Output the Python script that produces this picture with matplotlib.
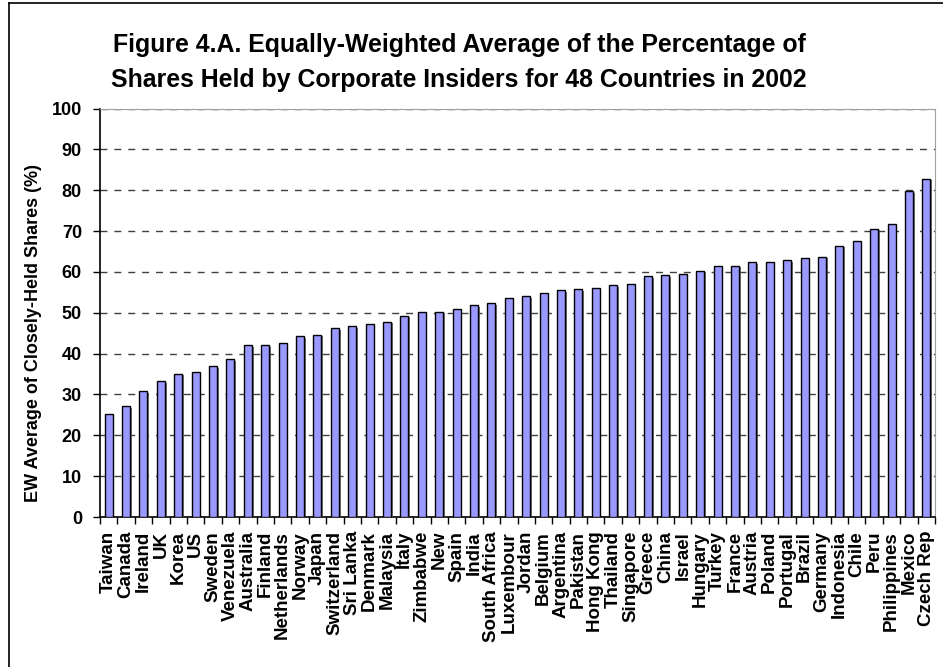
import numpy as np
import matplotlib
matplotlib.use("Agg")
import matplotlib.pyplot as plt
import matplotlib.patheffects as pe
from matplotlib.lines import Line2D

plt.rcParams['font.family'] = ['Liberation Sans', 'DejaVu Sans']
plt.rcParams['font.weight'] = 'bold'

countries = ['Taiwan', 'Canada', 'Ireland', 'UK', 'Korea', 'US', 'Sweden', 'Venezuela',
             'Australia', 'Finland', 'Netherlands', 'Norway', 'Japan', 'Switzerland',
             'Sri Lanka', 'Denmark', 'Malaysia', 'Italy', 'Zimbabwe', 'New', 'Spain',
             'India', 'South Africa', 'Luxembour', 'Jordan', 'Belgium', 'Argentina',
             'Pakistan', 'Hong Kong', 'Thailand', 'Singapore', 'Greece', 'China', 'Israel',
             'Hungary', 'Turkey', 'France', 'Austria', 'Poland', 'Portugal', 'Brazil',
             'Germany', 'Indonesia', 'Chile', 'Peru', 'Philippines', 'Mexico', 'Czech Rep']
ew_avg = [25.3, 27.2, 30.8, 33.3, 35.1, 35.4, 36.9, 38.7,
          42.0, 42.0, 42.6, 44.2, 44.6, 46.3,
          46.7, 47.2, 47.8, 49.3, 50.3, 50.3, 50.9,
          51.9, 52.4, 53.6, 54.0, 54.9, 55.5,
          55.8, 56.1, 56.7, 57.0, 58.9, 59.2, 59.4,
          60.3, 61.5, 61.5, 62.4, 62.4, 62.8, 63.4,
          63.7, 66.4, 67.6, 70.6, 71.8, 79.8, 82.8]
yticks = list(range(0, 101, 10))

fig = plt.figure(figsize=(9.43, 6.67), dpi=100)
ax = fig.add_axes([100/943, 1-517/667, 835/943, (517-108.5)/667])

x = np.arange(len(countries))
bars = ax.bar(x, ew_avg, width=0.46, color='#9999FF', edgecolor='black', linewidth=1, zorder=3)
for b in bars:
    b.set_path_effects([pe.SimplePatchShadow(offset=(1.2, -1.2), shadow_rgbFace='#555555', alpha=0.8), pe.Normal()])

ax.set_xlim(-0.5, len(countries) - 0.5)
ax.set_ylim(0, 100)
ax.set_yticks(yticks)
ax.yaxis.grid(True, color='#404040', linestyle=(0, (5, 5)), linewidth=1, zorder=0)
ax.set_axisbelow(True)

ax.set_xticks(x)
ax.set_xticklabels(countries, rotation=90, fontsize=13.5, fontweight='bold', va='top', ha='center')
ax.set_xticks(np.arange(len(countries) + 1) - 0.5, minor=True)
ax.tick_params(axis='x', which='major', length=0, pad=10)
ax.tick_params(axis='x', which='minor', length=5, direction='out', width=1)
ax.tick_params(axis='y', length=5, direction='out', width=1, labelsize=13, pad=8)
for lab in ax.get_yticklabels():
    lab.set_fontweight('bold')

ax.spines['top'].set_color('#a0a0a0')
ax.spines['right'].set_color('#a0a0a0')
ax.spines['left'].set_linewidth(1.2)
ax.spines['bottom'].set_linewidth(1.2)

ax.set_ylabel('EW Average of Closely-Held Shares (%)', fontsize=13, fontweight='bold')
ax.yaxis.set_label_coords(34/943, 0.5, transform=fig.transFigure)
ax.yaxis.label.set_va('center')

fig.text(459/943, 1-45/667, 'Figure 4.A. Equally-Weighted Average of the Percentage of',
         ha='center', va='center', fontsize=17.9, fontweight='bold')
fig.text(459/943, 1-80/667, 'Shares Held by Corporate Insiders for 48 Countries in 2002',
         ha='center', va='center', fontsize=17.9, fontweight='bold')

# outer chart frame
fig.add_artist(Line2D([9/943, 9/943], [0, 1-3/667], color='black', linewidth=1.2, transform=fig.transFigure))
fig.add_artist(Line2D([9/943, 1], [1-3/667, 1-3/667], color='black', linewidth=1.2, transform=fig.transFigure))

fig.savefig('out.png', dpi=100)
